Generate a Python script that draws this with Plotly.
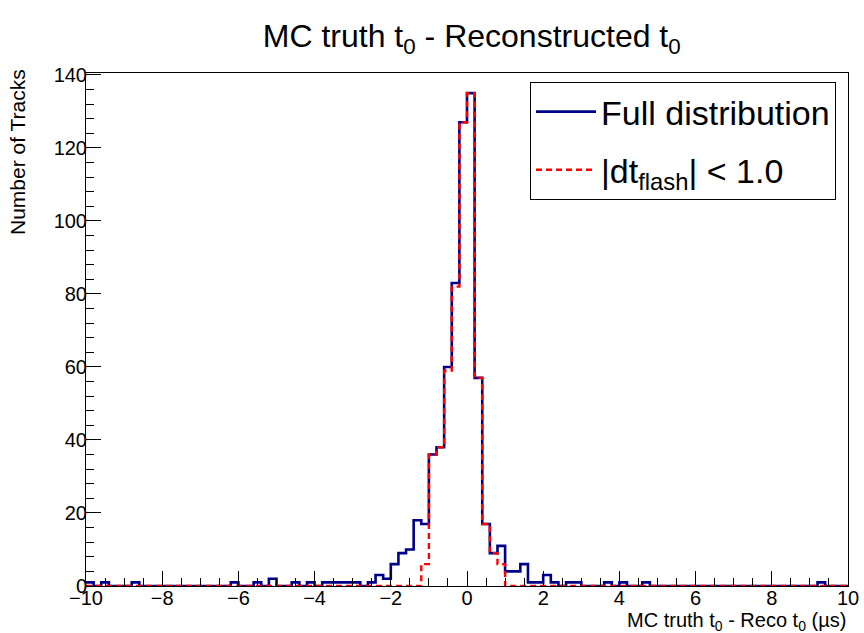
import numpy as np
import plotly.graph_objects as go

# Histogram: 100 bins from -10 to 10 (bin width 0.2)
x_min, x_max, n_bins = -10.0, 10.0, 100

# Full distribution counts, bin k covers [-10+0.2k, -10+0.2(k+1)]
full_counts = [
    1, 0, 1, 0, 0, 0, 1, 0, 0, 0,      # -10.0 .. -8.0
    0, 0, 0, 0, 0, 0, 0, 0, 0, 1,      # -8.0 .. -6.0
    0, 0, 1, 0, 2, 0, 0, 1, 0, 1,      # -6.0 .. -4.0
    0, 1, 1, 1, 1, 1, 0, 1, 3, 2,      # -4.0 .. -2.0
    6, 9, 10, 18, 17, 36, 38, 60, 83, 127,   # -2.0 .. 0.0
    135, 57, 17, 9, 11, 4, 4, 6, 1, 1,  # 0.0 .. 2.0
    3, 1, 0, 1, 1, 0, 0, 0, 1, 0,      # 2.0 .. 4.0
    1, 0, 0, 1, 0, 0, 0, 0, 0, 0,      # 4.0 .. 6.0
    0, 0, 0, 0, 0, 0, 0, 0, 0, 0,      # 6.0 .. 8.0
    0, 0, 0, 0, 0, 0, 1, 0, 0, 0,      # 8.0 .. 10.0
]

# |dt_flash| < 1.0 counts
cut_counts = [
    0, 0, 0, 0, 0, 0, 0, 0, 0, 0,
    0, 0, 0, 0, 0, 0, 0, 0, 0, 0,
    0, 0, 0, 0, 0, 0, 0, 0, 0, 0,
    0, 0, 0, 0, 0, 0, 0, 0, 0, 0,
    0, 0, 0, 0, 6, 36, 38, 59, 82, 127,
    135, 57, 17, 9, 6, 0, 0, 0, 0, 0,
    0, 0, 0, 0, 0, 0, 0, 0, 0, 0,
    0, 0, 0, 0, 0, 0, 0, 0, 0, 0,
    0, 0, 0, 0, 0, 0, 0, 0, 0, 0,
    0, 0, 0, 0, 0, 0, 0, 0, 0, 0,
]

x_ticks = [-10, -8, -6, -4, -2, 0, 2, 4, 6, 8, 10]
x_tick_text = ["\u221210", "\u22128", "\u22126", "\u22124", "\u22122",
               "0", "2", "4", "6", "8", "10"]
y_ticks = [0, 20, 40, 60, 80, 100, 120, 140]

edges = np.linspace(x_min, x_max, n_bins + 1)


def step_xy(counts):
    xs = list(edges)
    ys = list(counts) + [counts[-1]]
    return xs, ys


FONT = "Liberation Sans, Arial, Helvetica, sans-serif"

fig = go.Figure()
bx, by = step_xy(full_counts)
fig.add_trace(go.Scatter(
    x=bx, y=by, mode="lines", line_shape="hv",
    line=dict(color="#000088", width=2.6),
    name="Full distribution", legendgroup="a",
))
rx, ry = step_xy(cut_counts)
fig.add_trace(go.Scatter(
    x=rx, y=ry, mode="lines", line_shape="hv",
    line=dict(color="#ff0000", width=2.4, dash="6px,4px"),
    name="|dt<sub>flash</sub>| &lt; 1.0", legendgroup="b",
))

axis_common = dict(
    showline=True, linecolor="black", linewidth=1, mirror=True,
    ticks="inside", tickcolor="black", ticklen=15, tickwidth=1,
    showgrid=False, zeroline=False, automargin=False,
    tickfont=dict(family=FONT, size=20, color="black"),
)

fig.update_xaxes(
    range=[x_min, x_max], tickvals=x_ticks, ticktext=x_tick_text,
    ticklabelstandoff=-6,
    minor=dict(ticks="inside", dtick=0.5, tick0=0, ticklen=8, tickcolor="black", showgrid=False),
    **axis_common,
)
fig.update_yaxes(
    range=[0, 140.5], tickvals=y_ticks,
    ticklabelstandoff=-6,
    minor=dict(ticks="inside", dtick=4, tick0=0, ticklen=8, tickcolor="black", showgrid=False),
    **axis_common,
)

fig.update_layout(
    width=864, height=633,
    margin=dict(l=86, r=16, t=73, b=47),
    paper_bgcolor="white", plot_bgcolor="white",
    font=dict(family=FONT, color="black"),
    title=dict(
        text="MC truth t<sub>0</sub> - Reconstructed t<sub>0</sub>",
        x=0.546, xanchor="center", xref="container",
        y=1 - 36 / 633, yanchor="middle", yref="container",
        font=dict(family=FONT, size=32, color="black"),
    ),
    legend=dict(
        x=(530 - 86) / 762, y=(586 - 82) / 513, xanchor="left", yanchor="top",
        bgcolor="white", bordercolor="black", borderwidth=1,
        font=dict(family=FONT, size=34, color="black"),
        itemwidth=60, tracegroupgap=11, traceorder="grouped",
    ),
    showlegend=True,
    annotations=[
        dict(
            text="Number of Tracks", textangle=-90,
            xref="paper", yref="paper",
            x=(18 - 86) / 762, y=(586 - 67) / 513,
            xanchor="center", yanchor="top", showarrow=False,
            font=dict(family=FONT, size=21, color="black"),
        ),
        dict(
            text="MC truth t<sub>0</sub> - Reco t<sub>0</sub> (\u00b5s)",
            xref="paper", yref="paper",
            x=1.0, y=(586 - 621) / 513,
            xanchor="right", yanchor="middle", showarrow=False,
            font=dict(family=FONT, size=20, color="black"),
        ),
    ],
)

fig.write_html("out.html")
